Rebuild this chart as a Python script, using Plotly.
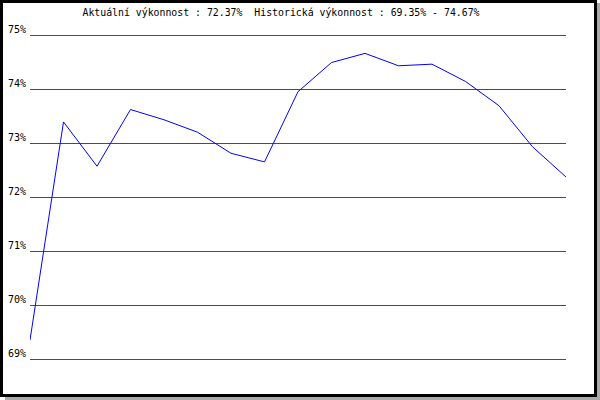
import plotly.graph_objects as go

points = list(range(17))
values = [69.35, 73.39, 72.57, 73.62, 73.43, 73.20, 72.81, 72.65, 73.95,
          74.49, 74.66, 74.43, 74.46, 74.14, 73.69, 72.93, 72.37]
y_ticks = [69, 70, 71, 72, 73, 74, 75]
y_labels = [f"{t}%" for t in y_ticks]
title_text = "Aktuální výkonnost : 72.37%  Historická výkonnost : 69.35% - 74.67%"

W, H = 600, 400
L, R, T, B = 30, 34, 33, 39
PW, PH = W - L - R, H - T - B
PAD = 2 / 54  # two pixels of padding around the 69%..75% range


def px(x):
    return (x - L) / PW


def py(y):
    return (H - B - y) / PH


fig = go.Figure()
fig.add_trace(go.Scatter(x=points, y=values, mode="lines",
                         line=dict(color="#0000ff", width=1), hoverinfo="skip"))

mono = "DejaVu Sans Mono, Liberation Mono, monospace"
fig.update_layout(
    width=W, height=H,
    margin=dict(l=L, r=R, t=T, b=B, autoexpand=False),
    paper_bgcolor="white", plot_bgcolor="white",
    showlegend=False,
    font=dict(family=mono, size=10, color="black"),
    title=dict(text=title_text, x=281 / W, y=1 - 13 / H,
               xanchor="center", yanchor="middle",
               font=dict(family=mono, size=9.85, color="black")),
    xaxis=dict(range=[0, 16], showgrid=False, zeroline=False,
               showticklabels=False, showline=False, ticks=""),
    yaxis=dict(range=[69 - PAD, 75 + PAD], tickvals=y_ticks, ticktext=y_labels,
               showgrid=True, gridcolor="#ff0000", gridwidth=1,
               zeroline=False, showline=False, ticks="",
               ticklabelstandoff=3, ticklabelshift=-6),
    shapes=[
        dict(type="rect", xref="paper", yref="paper",
             x0=px(597), x1=px(600), y0=py(400), y1=py(3),
             fillcolor="#aaaaaa", line=dict(width=0), layer="above"),
        dict(type="rect", xref="paper", yref="paper",
             x0=px(5), x1=px(600), y0=py(400), y1=py(397),
             fillcolor="#aaaaaa", line=dict(width=0), layer="above"),
        dict(type="rect", xref="paper", yref="paper",
             x0=px(1.5), x1=px(595.5), y0=py(395.5), y1=py(1.5),
             line=dict(color="black", width=3),
             layer="above"),
    ],
)

fig.write_html("out.html",
               config={"displayModeBar": False, "staticPlot": True},
               post_script="document.body.style.margin='0';")
